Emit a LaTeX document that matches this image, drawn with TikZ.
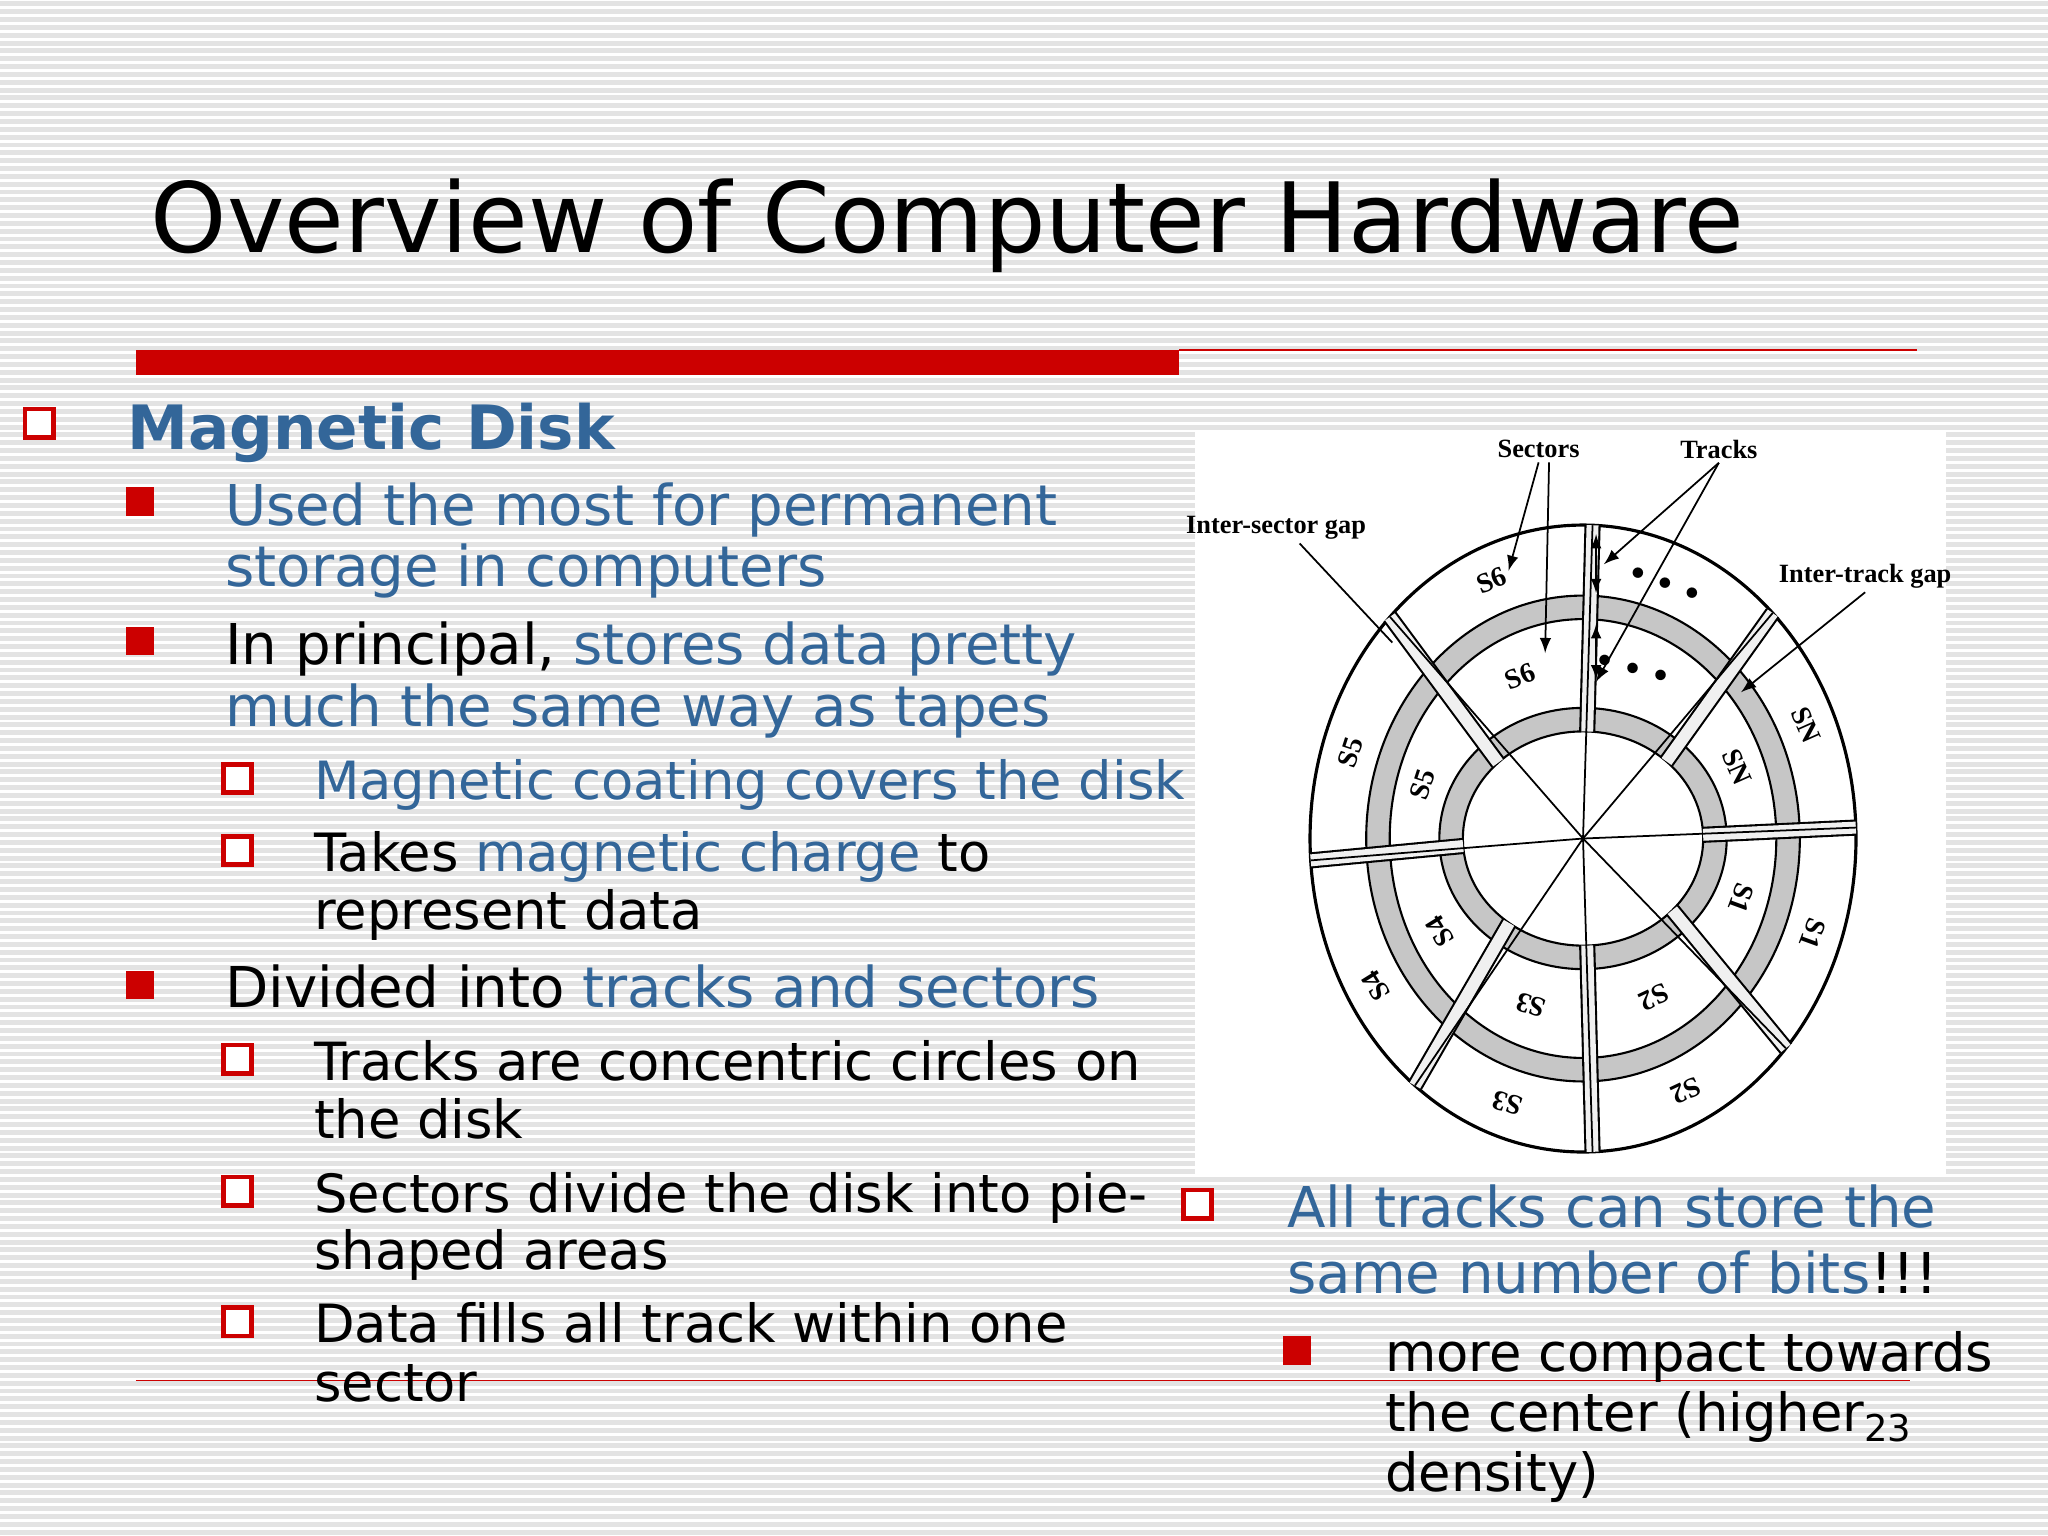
\documentclass[tikz,border=0pt]{standalone}
\usepackage{fontspec}
\setmainfont{DejaVu Sans}
\newfontfamily\figfont{Liberation Serif}
\usetikzlibrary{positioning}
\definecolor{slideblue}{RGB}{51,102,153}
\definecolor{slidered}{RGB}{204,0,0}
\tikzset{
  txt/.style={anchor=base west, inner sep=0pt, font=\fontsize{16}{19}\selectfont},
  hbox/.style={draw=slidered, line width=1.3pt, fill=white, minimum size=8pt, inner sep=0pt},
  fbox/.style={fill=slidered, minimum size=8pt, inner sep=0pt},
  figlbl/.style={font=\figfont\bfseries\fontsize{7.5}{9}\selectfont, inner sep=1pt},
  seclbl/.style={font=\figfont\bfseries\fontsize{8}{9}\selectfont, inner sep=0pt},
  gap/.style={line width=0.6pt, double=gray!12, double distance=3.4pt},
  ptr/.style={-latex, line width=0.5pt}
}
\newcommand{\bl}[1]{\textcolor{slideblue}{#1}}
\begin{document}
\begin{tikzpicture}[x=0.013061cm, y=-0.013061cm]
  \useasboundingbox (0,0) rectangle (1568,1176);
  % background stripes
  \fill[white] (0,0) rectangle (1568,1176);
  \foreach \k in {0,...,195} \draw[gray!22, line width=1.4pt] (0,\k*6+3) -- (1568,\k*6+3);
  \fill[white] (915,330) rectangle (1490,900);

  % title and rules
  \node[anchor=base west, inner sep=0pt, font=\fontsize{27.6}{32}\selectfont] (title) at (115,193) {Overview of Computer Hardware};
  \fill[slidered] (104,268) rectangle (903,287);
  \draw[slidered, line width=0.8pt] (903,268) -- (1468,268);
  \draw[slidered, line width=0.4pt] (104,1057) -- (1462,1057);

  % left text
  \node[hbox] (b0) at (30,324) {};
  \node[txt, font=\fontsize{17.4}{21}\selectfont\bfseries, text=slideblue] (t0) at (97,344) {Magnetic Disk};
  \node[fbox] (b1) at (107,384) {};
  \node[txt] (t1a) at (172,402) {\bl{Used the most for permanent}};
  \node[txt] (t1b) at (172,449) {\bl{storage in computers}};
  \node[fbox] (b2) at (107,491) {};
  \node[txt] (t2a) at (172,509) {In principal, \bl{stores data pretty}};
  \node[txt] (t2b) at (172,556) {\bl{much the same way as tapes}};
  \node[hbox] (b3) at (182,596) {};
  \node[txt, font=\fontsize{15}{18}\selectfont] (t3) at (240,612) {\bl{Magnetic coating covers the disk}};
  \node[hbox] (b4) at (182,651) {};
  \node[txt, font=\fontsize{15}{18}\selectfont] (t4a) at (240,667) {Takes \bl{magnetic charge} to};
  \node[txt, font=\fontsize{15}{18}\selectfont] (t4b) at (240,712) {represent data};
  \node[fbox] (b5) at (107,754) {};
  \node[txt] (t5) at (172,771) {Divided into \bl{tracks and sectors}};
  \node[hbox] (b6) at (182,811) {};
  \node[txt, font=\fontsize{15}{18}\selectfont] (t6a) at (240,827) {Tracks are concentric circles on};
  \node[txt, font=\fontsize{15}{18}\selectfont] (t6b) at (240,872) {the disk};
  \node[hbox] (b7) at (182,912) {};
  \node[txt, font=\fontsize{15}{18}\selectfont] (t7a) at (240,928) {Sectors divide the disk into pie-};
  \node[txt, font=\fontsize{15}{18}\selectfont] (t7b) at (240,972) {shaped areas};
  \node[hbox] (b8) at (182,1012) {};
  \node[txt, font=\fontsize{15}{18}\selectfont] (t8a) at (240,1028) {Data fills all track within one};
  \node[txt, font=\fontsize{15}{18}\selectfont] (t8b) at (240,1073) {sector};

  % right text
  \node[hbox] (b9) at (917,922) {};
  \node[txt] (t9a) at (985,940) {\bl{All tracks can store the}};
  \node[txt] (t9b) at (985,990) {\bl{same number of bits}!!!};
  \node[fbox] (b10) at (993,1034) {};
  \node[txt, font=\fontsize{15}{18}\selectfont] (t10a) at (1060,1050) {more compact towards};
  \node[txt, font=\fontsize{15}{18}\selectfont] (t10b) at (1060,1096) {the center (higher\textsubscript{23}};
  \node[txt, font=\fontsize{15}{18}\selectfont] (t10c) at (1060,1142) {density)};

  % disk
  \begin{scope}[shift={(1212,642)}]
    \draw[line width=0.9pt, fill=white] (0,0) ellipse [x radius=209, y radius=240];
    \draw[line width=0.6pt, fill=gray!45, even odd rule] (0,0) ellipse [x radius=166, y radius=186] (0,0) ellipse [x radius=148, y radius=168];
    \draw[line width=0.6pt, fill=gray!45, even odd rule] (0,0) ellipse [x radius=110, y radius=100] (0,0) ellipse [x radius=92, y radius=82];
    \foreach \a in {88,135,184,232,272,318,2,46}
      \draw[gap] ({92*cos(\a)},{-82*sin(\a)}) -- ({209*cos(\a)},{-240*sin(\a)});
    \foreach \a in {88,135,184,232,272,318,2,46}
      \draw[line width=0.5pt] (0,0) coordinate (ctr) -- ({209*cos(\a)},{-240*sin(\a)});
    % sector labels
    \foreach \a/\s/\n in {112/S6/o6,162/S5/o5,212/S4/o4,252/S3/o3,295/S2/o2,340/S1/o1,24/SN/oN}
      \node[seclbl, rotate=\a-90] (\n) at ({187*cos(\a)},{-213*sin(\a)}) {\s};
    \foreach \a/\s/\n in {112/S6/i6,162/S5/i5,212/S4/i4,252/S3/i3,295/S2/i2,340/S1/i1,24/SN/iN}
      \node[seclbl, rotate=\a-90] (\n) at ({129*cos(\a)},{-134*sin(\a)}) {\s};
    \node[rotate=-20, font=\fontsize{7}{7}\selectfont, inner sep=0pt] (dots1) at (63,-195) {$\bullet\;\bullet\;\bullet$};
    \node[rotate=-15, font=\fontsize{7}{7}\selectfont, inner sep=0pt] (dots2) at (38,-130) {$\bullet\;\bullet\;\bullet$};
    \draw[latex-latex, line width=0.4pt] (10,-233) -- (10,-188);
    \draw[latex-latex, line width=0.4pt] (10,-164) -- (10,-122);
  \end{scope}

  % figure labels
  \node[figlbl] (sect) at (1178,344) {Sectors};
  \node[figlbl] (trk) at (1316,344) {Tracks};
  \node[figlbl] (isg) at (977,404) {Inter-sector gap};
  \node[figlbl] (itg) at (1428,441) {Inter-track gap};
  \coordinate (sa) at (1155,437);
  \coordinate (sb) at (1183,500);
  \coordinate (ta) at (1228,432);
  \coordinate (tb) at (1222,522);
  \coordinate (ia) at (1066,492);
  \coordinate (ja) at (1333,530);
  \draw[ptr] (sect.south) -- (sa);
  \draw[ptr] (sect.south) ++(8,0) -- (sb);
  \draw[ptr] (trk.south) -- (ta);
  \draw[ptr] (trk.south) -- (tb);
  \draw[line width=0.5pt] (isg.south) ++(18,0) -- (ia);
  \draw[ptr] (itg.south) -- (ja);
\end{tikzpicture}
\end{document}
